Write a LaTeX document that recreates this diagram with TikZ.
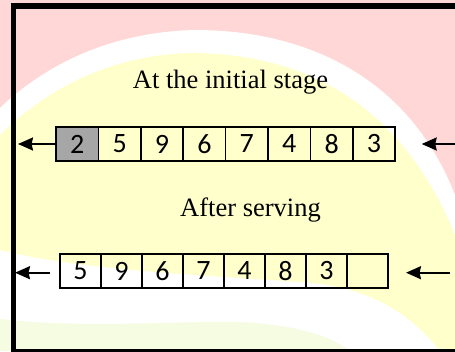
\documentclass[tikz,border=0pt]{standalone}
\usepackage{fontspec}
\setmainfont{Liberation Serif}
\newfontfamily\digitfont{Carlito}
\usetikzlibrary{arrows.meta}
\definecolor{bgpink}{RGB}{255,215,215}
\definecolor{bgyellow}{RGB}{255,255,204}
\definecolor{bggreen}{RGB}{246,252,226}
\definecolor{headgray}{RGB}{166,166,166}
\tikzset{
  cell/.style={draw,line width=1.6pt,minimum width=42.4pt,minimum height=34pt,
    inner sep=0pt,outer sep=0pt,font=\digitfont\fontsize{28}{28}\selectfont},
  stagetext/.style={anchor=base,font=\fontsize{26.5}{30}\selectfont},
  arr/.style={line width=2pt,-{Stealth[length=15pt,width=13pt,inset=1.5pt]}}
}
\begin{document}
\begin{tikzpicture}[x=1pt,y=-1pt]
	\useasboundingbox (0,0) rectangle (455,351);
	\clip (0,0) rectangle (455,351);
	% slide background
	\fill[bgpink] (0,0) rectangle (455,351);
	\fill[white] (0,108) .. controls (45,65) and (110,32) .. (195,30) .. controls (310,30) and (410,80) .. (455,195) -- (455,351) -- (0,351) -- cycle;
	\fill[bgyellow] (0,135) .. controls (45,90) and (110,55) .. (190,53) .. controls (300,53) and (400,100) .. (455,235) -- (455,351) -- (440,351) .. controls (400,300) and (350,285) .. (300,282) .. controls (200,275) and (80,270) .. (0,250) -- cycle;
	\fill[bggreen] (0,319) .. controls (80,328) and (150,322) .. (230,322) .. controls (290,323) and (330,335) .. (350,351) -- (0,351) -- cycle;
	\draw[line width=5.5pt] (13.5,6) rectangle (470,351.5);
	% queue before serving
	\node[stagetext] (stage1) at (230.5,88.3) {At the initial stage};
	\node[cell,fill=headgray] (a1) at (77.2,144) {2};
	\foreach \v [count=\i from 2] in {5,9,6,7,4,8,3}
		\node[cell] (a\i) at ({56+42.4*\i-21.2},144) {\v};
	\coordinate (outA) at (18,144);
	\coordinate (inA) at (470,144);
	\coordinate (endA) at (421.7,144);
	\draw[arr] (a1.west) -- (outA);
	\draw[arr] (inA) -- (endA);
	% queue after serving
	\node[stagetext] (stage2) at (250.5,216.7) {After serving};
	\foreach \v [count=\i] in {5,9,6,7,4,8,3,{}}
		\node[cell,minimum width=41pt] (b\i) at ({60+41*\i-20.5},271) {\v};
	\coordinate (tailB) at (50,272.7);
	\coordinate (outB) at (15,272.7);
	\coordinate (inB) at (450,272.7);
	\coordinate (endB) at (406,272.7);
	\draw[arr] (tailB) -- (outB);
	\draw[arr] (inB) -- (endB);
\end{tikzpicture}
\end{document}
